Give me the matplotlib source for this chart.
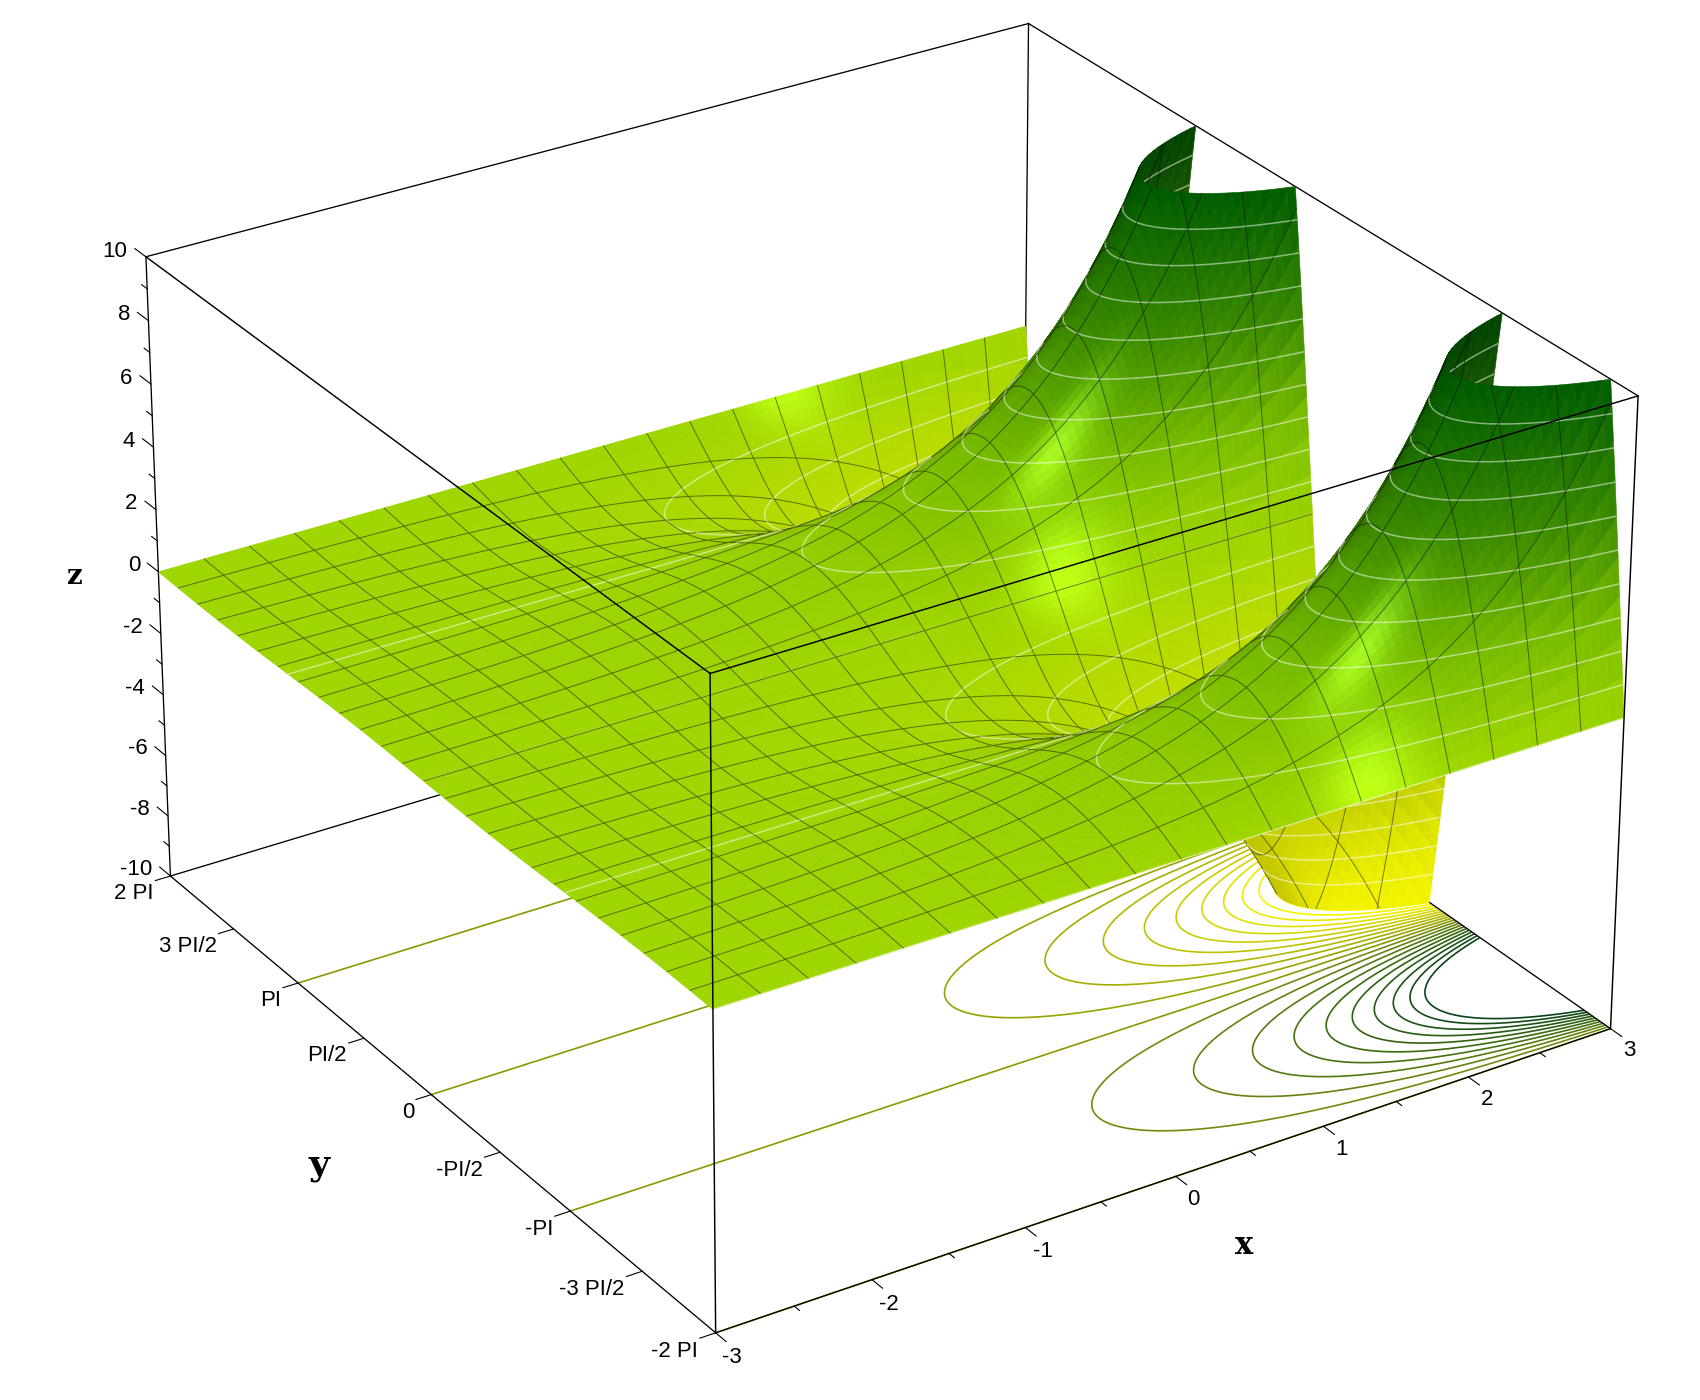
import numpy as np
import matplotlib
matplotlib.use("Agg")
import matplotlib.pyplot as plt
from matplotlib.colors import LinearSegmentedColormap
from mpl_toolkits.mplot3d import proj3d
from mpl_toolkits.mplot3d.art3d import Poly3DCollection, Line3DCollection

# surface height is read as amplitude along x times wave along y
x_amp = [.0498,.0523,.0550,.0578,.0608,.0639,.0672,.0707,.0743,.0781,.0821,.0863,.0907,.0954,.1003,.1054,
         .1108,.1165,.1225,.1287,.1353,.1423,.1496,.1572,.1653,.1738,.1827,.1920,.2019,.2122,.2231,.2346,
         .2466,.2592,.2725,.2865,.3012,.3166,.3329,.3499,.3679,.3867,.4066,.4274,.4493,.4724,.4966,.5220,
         .5488,.5769,.6065,.6376,.6703,.7047,.7408,.7788,.8187,.8607,.9048,.9512,1.0,1.051,1.105,1.162,
         1.221,1.284,1.350,1.419,1.492,1.568,1.649,1.733,1.822,1.916,2.014,2.117,2.226,2.340,2.460,2.586,
         2.718,2.858,3.004,3.158,3.320,3.490,3.669,3.857,4.055,4.263,4.482,4.711,4.953,5.207,5.474,5.755,
         6.050,6.360,6.686,7.029,7.389,7.768,8.166,8.585,9.025,9.488,9.974,10.49,11.02,11.59,12.18,12.81,
         13.46,14.15,14.88,15.64,16.44,17.29,18.17,19.11,20.09]
y_quarter = [0,.0604,.1205,.1803,.2393,.2975,.3546,.4103,.4647,.5173,.5681,.6167,.6631,.7071,.7485,.7869,
             .8230,.8561,.8855,.9120,.9350,.9547,.9709,.9836,.9927,.9982,1]
y_half = y_quarter+y_quarter[-2::-1]
y_wave = y_half+[-v for v in y_half[1:]]+y_half[1:]+[-v for v in y_half[1:]]

z_ticks = [-10,-8,-6,-4,-2,0,2,4,6,8,10]
z_minor = [-9,-7,-5,-3,-1,1,3,5,7,9]
x_ticks = [-3,-2,-1,0,1,2,3]
x_minor = [-2.5,-1.5,-.5,.5,1.5,2.5]
P = np.pi
y_ticks = [-2*P,-3*P/2,-P,-P/2,0,P/2,P,3*P/2,2*P]
y_labels = ["-2 PI","-3 PI/2","-PI","-PI/2","0","PI/2","PI","3 PI/2","2 PI"]
levels = list(range(-10,11))
surf_levels = list(range(-9,10))

# view fitted to the box corners of the picture
ELEV,AZIM,ROLL,ZOOM,ASP_Y,ASP_Z = 27.6549,236.9699,-.0692,.9404,1.0004,.667
SCALE,TX,TY = 9242.7,880.3,756.2
NX,NY = 6,8   # fine cells per mesh cell

xs = np.linspace(-3,3,len(x_amp))
ys = np.linspace(-2*P,2*P,len(y_wave))
Z = np.outer(y_wave,x_amp)
X,Y = np.meshgrid(xs,ys)

plt.rcParams['font.family'] = ['Liberation Sans','DejaVu Sans']
fig = plt.figure(figsize=(17,14),dpi=100)
ax = fig.add_axes([0,0,1,1],projection='3d',computed_zorder=False)
ax.set_xlim(-3,3); ax.set_ylim(-2*P,2*P); ax.set_zlim(-10,10)
ax.set_proj_type('persp',focal_length=1)
ax.set_axis_off()
ax.view_init(elev=ELEV,azim=AZIM,roll=ROLL)
ax.set_box_aspect((1,ASP_Y,ASP_Z),zoom=ZOOM)
x0,x1 = ax.viewLim.intervalx
y0,y1 = ax.viewLim.intervaly
W = SCALE*(x1-x0)
ax.set_position([(TX+SCALE*x0)/1700,(TY+SCALE*y0)/1400,W/1700,W/1400])
M = ax.get_proj()

surf_cmap = LinearSegmentedColormap.from_list("surf",[(0,'#f4f400'),(.25,'#cfe000'),(.5,'#9ed600'),(.65,'#78bc00'),(.8,'#3c8c00'),(1,'#005c00')])
floor_cmap = LinearSegmentedColormap.from_list("floor",[(0,'#ffff00'),(.25,'#cccc00'),(.5,'#8a9a00'),(.55,'#728a10'),(.75,'#3a6a10'),(1,'#0a4418')])

# lighting in box space
dzdy,dzdx = np.gradient(Z,ys,xs)
Zx = dzdx*(ASP_Z/20)*6
Zy = dzdy*(ASP_Z/20)*(4*P/ASP_Y)
nrm = np.sqrt(Zx**2+Zy**2+1)
nx,ny,nz = -Zx/nrm,-Zy/nrm,1/nrm
L = np.array([-.2,-.55,.81]); L = L/np.linalg.norm(L)
H1 = np.array([-.40,-.70,.59]); H1 = H1/np.linalg.norm(H1)
H2 = np.array([-.05,-.83,.555]); H2 = H2/np.linalg.norm(H2)
diff = np.clip(nx*L[0]+ny*L[1]+nz*L[2],0,1)
# the yellow wall is seen from its underside, it gets brighter towards x=3
wall = .35*np.clip(ny,0,1)*np.clip(-Z/10,0,1)
shade = np.clip(.73+.33*diff/L[2]+wall,0,1)
spec = (np.clip(nx*H1[0]+ny*H1[1]+nz*H1[2],0,1)**110+np.clip(nx*H2[0]+ny*H2[1]+nz*H2[2],0,1)**110*.7)*.3

def quad_avg(a):
    return (a[:-1,:-1]+a[1:,:-1]+a[:-1,1:]+a[1:,1:])/4
base = surf_cmap((np.clip(quad_avg(Z),-10,10)+10)/20)[...,:3]
cell_col = base*quad_avg(shade)[...,None]+quad_avg(spec)[...,None]*np.array([.7,.9,.45])
cell_col = np.clip(cell_col,0,1)

def clip_poly(poly):
    for lim,sg in ((10,1),(-10,-1)):
        out=[]
        for a,b in zip(poly,poly[1:]+poly[:1]):
            ina=sg*(a[2]-lim)<=0; inb=sg*(b[2]-lim)<=0
            if ina: out.append(a)
            if ina!=inb:
                t=(lim-a[2])/(b[2]-a[2])
                out.append(tuple(a[k]+t*(b[k]-a[k]) for k in range(3)))
        poly=out
        if not poly: return []
    return poly

def clip_seg(a,b):
    if abs(a[2])<=10 and abs(b[2])<=10: return [a,b]
    if (a[2]>10 and b[2]>10) or (a[2]<-10 and b[2]<-10): return None
    s,e=np.array(a,float),np.array(b,float)
    for lim in (10,-10):
        if (s[2]-lim)*(e[2]-lim)<0:
            t=(lim-s[2])/(e[2]-s[2]);m=s+t*(e-s)
            if (lim==10)==(s[2]>e[2]): s=m
            else: e=m
    return [tuple(s),tuple(e)]

def pt(j,i): return (xs[i],ys[j],Z[j,i])

def level_segs(j,i):
    segs=[]
    corners=[pt(j,i),pt(j,i+1),pt(j+1,i+1),pt(j+1,i)]
    zz=[c[2] for c in corners]
    for lev in surf_levels:
        if lev<min(zz) or lev>max(zz): continue
        cross=[]
        for a,b in zip(corners,corners[1:]+corners[:1]):
            if (a[2]<=lev<b[2]) or (b[2]<=lev<a[2]):
                t=(lev-a[2])/(b[2]-a[2])
                cross.append(tuple(a[k]+t*(b[k]-a[k]) for k in range(3)))
        if len(cross)>=2: segs.append(cross[:2])
    return segs

def label_at(x,y,z,s,dx=0,dy=0,**kw):
    u,v,_ = proj3d.proj_transform(x,y,z,M)
    fig.text((TX+SCALE*u+dx)/1700,(TY+SCALE*v-dy)/1400,s,fontsize=16,**kw)

# floor contours
ax.contour(X,Y,Z,levels=levels,zdir='z',offset=-10,colors=[floor_cmap((l+10)/20) for l in levels],linewidths=1.2,zorder=2)

# box
lw_box = .95
x_a,x_b,y_a,y_b,z_a,z_b = -3,3,-2*P,2*P,-10,10
back = [([x_a,x_a],[y_b,y_b],[z_a,z_b]),([x_b,x_b],[y_b,y_b],[z_a,z_b]),
        ([x_a,x_b],[y_b,y_b],[z_b,z_b]),([x_b,x_b],[y_a,y_b],[z_b,z_b]),
        ([x_a,x_b],[y_b,y_b],[z_a,z_a]),([x_b,x_b],[y_a,y_b],[z_a,z_a]),
        ([x_a,x_a],[y_a,y_b],[z_a,z_a]),([x_a,x_b],[y_a,y_a],[z_a,z_a])]
front = [([x_a,x_a],[y_a,y_a],[z_a,z_b]),([x_b,x_b],[y_a,y_a],[z_a,z_b]),
         ([x_a,x_b],[y_a,y_a],[z_b,z_b]),([x_a,x_a],[y_a,y_b],[z_b,z_b])]
for e in back:
    ax.plot(*e,color='k',lw=lw_box,zorder=3)

# surface from far cells to near cells, so that the ridges hide what is behind them
zo = 10
for cj in range(25,-1,-1):
    for ci in range(19,-1,-1):
        polys,cols,mesh,cont = [],[],[],[]
        for j in range(cj*NY,cj*NY+NY):
            for i in range(ci*NX,ci*NX+NX):
                poly = clip_poly([pt(j,i),pt(j,i+1),pt(j+1,i+1),pt(j+1,i)])
                if poly:
                    polys.append(poly); cols.append(cell_col[j,i])
                    cont += level_segs(j,i)
        if ci<19:
            i=ci*NX+NX
            for j in range(cj*NY,cj*NY+NY):
                s=clip_seg(pt(j,i),pt(j+1,i))
                if s: mesh.append(s)
        if cj<25:
            j=cj*NY+NY
            for i in range(ci*NX,ci*NX+NX):
                s=clip_seg(pt(j,i),pt(j,i+1))
                if s: mesh.append(s)
        if polys:
            ax.add_collection3d(Poly3DCollection(polys,facecolors=cols,edgecolors=cols,linewidths=.4,zorder=zo),autolim=False)
        if mesh:
            ax.add_collection3d(Line3DCollection(mesh,colors=[(0,0,0,.48)],linewidths=.7,capstyle='butt',zorder=zo+1),autolim=False)
        if cont:
            ax.add_collection3d(Line3DCollection(cont,colors=[(1,1,1,.5)],linewidths=1.1,capstyle='butt',zorder=zo+1),autolim=False)
        zo += 2

for e in front:
    ax.plot(*e,color='k',lw=lw_box+.1,zorder=zo)

# ticks and labels
for z in z_ticks:
    ax.plot([x_a,x_a],[y_b,y_b+.27],[z,z],color='k',lw=.8,zorder=zo)
    label_at(x_a,y_b+.45,z,str(z),dy=8,ha='right',va='center')
for z in z_minor:
    ax.plot([x_a,x_a],[y_b,y_b+.135],[z,z],color='k',lw=.8,zorder=zo)
for v in x_ticks:
    ax.plot([v,v],[y_a,y_a-.22],[z_a,z_a],color='k',lw=.8,zorder=zo)
    label_at(v,y_a-.6,z_a,str(v),dx=-12,dy=1,ha='center',va='center')
for v in x_minor:
    ax.plot([v,v],[y_a,y_a-.11],[z_a,z_a],color='k',lw=.8,zorder=zo)
for v,lab in zip(y_ticks,y_labels):
    ax.plot([x_a,x_a-.1],[v,v],[z_a,z_a],color='k',lw=.8,zorder=zo)
    label_at(x_a-.15,v,z_a,lab,dx=6,ha='right',va='top')

fig.text(74/1700,1-576/1400,"z",family='DejaVu Serif',weight='bold',fontsize=20,ha='center',va='center')
fig.text(319/1700,1-1165/1400,"y",family='DejaVu Serif',weight='bold',fontsize=26,ha='center',va='center')
fig.text(1244/1700,1-1245/1400,"x",family='DejaVu Serif',weight='bold',fontsize=22,ha='center',va='center')
fig.savefig("out.png",facecolor='white')
